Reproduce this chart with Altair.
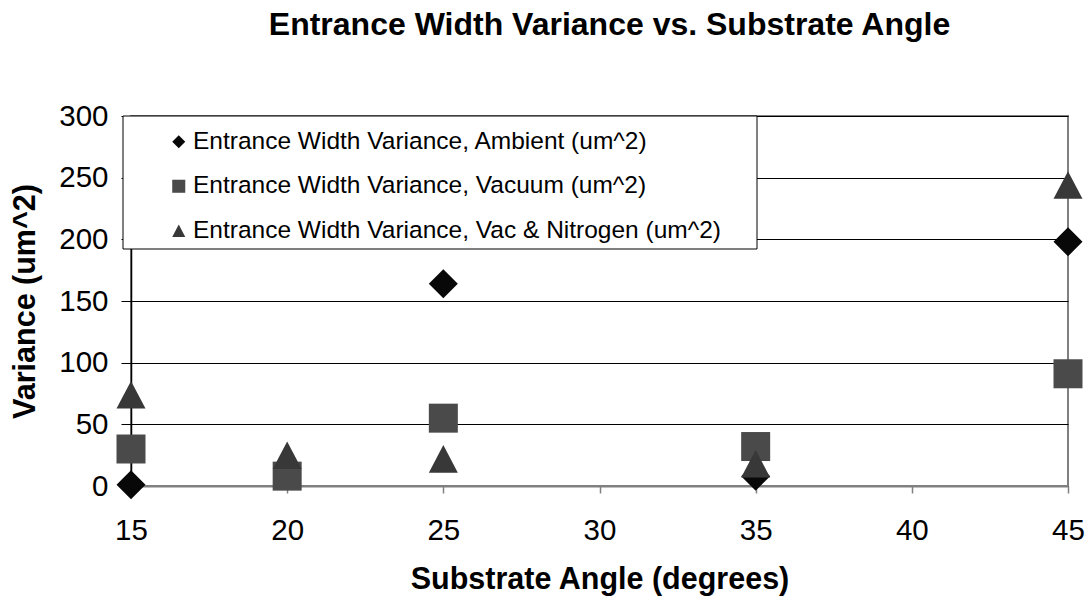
import altair as alt
import pandas as pd

# Series labels, as shown in the legend
series_names = [
    "Entrance Width Variance, Ambient (um^2)",
    "Entrance Width Variance, Vacuum (um^2)",
    "Entrance Width Variance, Vac & Nitrogen (um^2)",
]

# Measured variance per substrate angle (degrees -> um^2)
ambient_angle = [15, 25, 35, 45]
ambient_var = [1, 164, 8, 198]

vacuum_angle = [15, 20, 25, 35, 45]
vacuum_var = [30, 8, 55, 32, 91]

nitrogen_angle = [15, 20, 25, 35, 45]
nitrogen_var = [74, 25, 22, 18, 244]

x_ticks = [15, 20, 25, 30, 35, 40, 45]
y_ticks = [0, 50, 100, 150, 200, 250, 300]

series_colors = ["#080808", "#4a4a4a", "#383838"]
# upright triangle about as tall as it is wide
series_shapes = ["diamond", "square", "M0,-0.95L1,0.95L-1,0.95Z"]

rows = []
for name, xs, ys in zip(
    series_names,
    [ambient_angle, vacuum_angle, nitrogen_angle],
    [ambient_var, vacuum_var, nitrogen_var],
):
    rows += [{"series": name, "angle": a, "variance": v} for a, v in zip(xs, ys)]
df = pd.DataFrame(rows)

FONT = "Liberation Sans"

legend_props = dict(
    orient="none",
    legendX=35.5,
    legendY=13.5,
    padding=0,
    title=None,
    labelFont=FONT,
    labelFontSize=24.5,
    labelColor="black",
    labelLimit=0,
    symbolSize=170,
    symbolStrokeWidth=0,
    symbolOpacity=1,
    rowPadding=19.5,
    labelOffset=2,
)

# White framed box behind the legend entries
legend_box = alt.Chart(alt.Data(values=[{}])).mark_rect(
    fill="white", stroke="black", strokeWidth=1
).encode(
    x=alt.value(-8), x2=alt.value(626), y=alt.value(0), y2=alt.value(133)
)

points = alt.Chart(df).mark_point(filled=True, size=841, opacity=1).encode(
    x=alt.X(
        "angle:Q",
        scale=alt.Scale(domain=[15, 45], nice=False, zero=False),
        axis=alt.Axis(
            values=x_ticks,
            grid=False,
            domainColor="#808080",
            domainWidth=2,
            tickColor="#808080",
            tickWidth=1.5,
            tickSize=7,
            labelPadding=23,
            labelFlush=False,
            labelFont=FONT,
            labelFontSize=29.5,
            labelColor="black",
            title="Substrate Angle (degrees)",
            titleFont=FONT,
            titleFontSize=30.5,
            titleFontWeight="bold",
            titleColor="black",
            titleY=102,
            titleBaseline="alphabetic",
        ),
    ),
    y=alt.Y(
        "variance:Q",
        scale=alt.Scale(domain=[0, 300], nice=False),
        axis=alt.Axis(
            values=y_ticks,
            grid=True,
            gridColor="black",
            gridWidth=1,
            gridOpacity=1,
            domainColor="black",
            domainWidth=1.5,
            tickColor="black",
            tickWidth=1,
            tickSize=10,
            labelPadding=13,
            labelFlush=False,
            labelFont=FONT,
            labelFontSize=29.5,
            labelColor="black",
            title="Variance (um^2)",
            titleFont=FONT,
            titleFontSize=30.5,
            titleFontWeight="bold",
            titleColor="black",
            titleAngle=-90,
            titleX=-97,
            titleY=185,
            titleAlign="center",
            titleBaseline="alphabetic",
        ),
    ),
    color=alt.Color(
        "series:N",
        scale=alt.Scale(domain=series_names, range=series_colors),
        legend=alt.Legend(**legend_props),
    ),
    shape=alt.Shape(
        "series:N",
        scale=alt.Scale(domain=series_names, range=series_shapes),
        legend=alt.Legend(**legend_props),
    ),
)

chart = alt.layer(legend_box, points).properties(
    width=937,
    height=370,
    padding={"left": 131, "top": 116, "right": 21, "bottom": 115},
    autosize=alt.AutoSizeParams(type="none"),
    background="white",
    title=alt.TitleParams(
        "Entrance Width Variance vs. Substrate Angle",
        font=FONT,
        fontSize=32,
        fontWeight="bold",
        color="black",
        anchor="middle",
        dx=10,
        offset=59,
    ),
).configure_view(stroke="#808080", strokeWidth=2)

chart.save("out.html", embed_options={"renderer": "svg", "actions": False})
